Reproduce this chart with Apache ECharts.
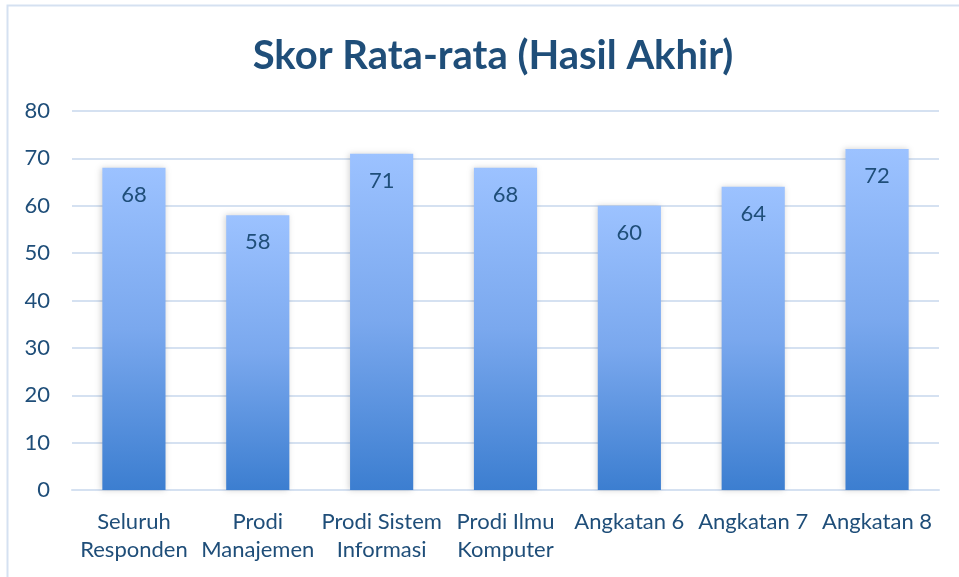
<!DOCTYPE html>
<html>
<head>
<meta charset="utf-8">
<script src="https://cdn.jsdelivr.net/npm/echarts@6/dist/echarts.min.js"></script>
<style>
  html, body { margin: 0; padding: 0; background: #fff; }
  #chart { width: 959px; height: 577px; }
</style>
</head>
<body>
<div id="chart"></div>
<script>
  // data
  var categories = ['Seluruh\nResponden', 'Prodi\nManajemen', 'Prodi Sistem\nInformasi', 'Prodi Ilmu\nKomputer', 'Angkatan 6', 'Angkatan 7', 'Angkatan 8'];
  var scores = [68, 58, 71, 68, 60, 64, 72];
  var titleText = 'Skor Rata-rata (Hasil Akhir)';

  var textColor = '#1F4E79';
  var font = 'Lato, sans-serif';

  var myChart = echarts.init(document.getElementById('chart'));
  myChart.setOption({
    animation: false,
    title: {
      text: titleText,
      left: 488,
      textAlign: 'center',
      top: 31,
      textStyle: { color: textColor, fontSize: 40, fontWeight: 'bold', fontFamily: font }
    },
    graphic: [{
      type: 'rect',
      shape: { x: 7.5, y: 5.5, width: 1000, height: 700 },
      style: { fill: 'none', stroke: '#D5E1F1', lineWidth: 2 },
      silent: true
    }],
    grid: { left: 72, right: 20, top: 111, bottom: 87 },
    xAxis: {
      type: 'category',
      data: categories,
      axisTick: { show: false },
      axisLine: { lineStyle: { color: '#D5E1F1', width: 2 } },
      axisLabel: {
        color: textColor, fontSize: 22, fontFamily: font,
        lineHeight: 28, margin: 18, interval: 0
      }
    },
    yAxis: {
      type: 'value',
      min: 0, max: 80, interval: 10,
      axisLine: { show: false },
      axisTick: { show: false },
      axisLabel: { color: textColor, fontSize: 22, fontFamily: font, margin: 22 },
      splitLine: { lineStyle: { color: '#D5E1F1', width: 2 } }
    },
    series: [{
      type: 'bar',
      data: scores,
      barWidth: '51%',
      itemStyle: {
        color: new echarts.graphic.LinearGradient(0, 0, 0, 1, [
          { offset: 0, color: '#9CC2FF' },
          { offset: 0.5, color: '#7AA8EE' },
          { offset: 1, color: '#3C7ED0' }
        ]),
        shadowColor: 'rgba(0,0,0,0.18)',
        shadowBlur: 6,
        shadowOffsetX: -1
      },
      label: {
        show: true,
        position: 'insideTop',
        distance: 16,
        color: textColor,
        fontSize: 22,
        fontFamily: font
      }
    }]
  });
</script>
</body>
</html>
